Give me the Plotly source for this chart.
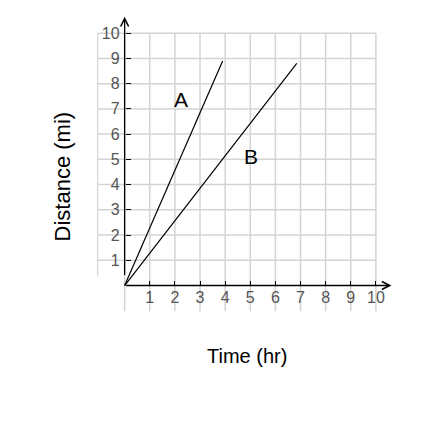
import plotly.graph_objects as go

# data
line_a_x = [0, 3.9]
line_a_y = [0, 8.9]
line_b_x = [0, 6.85]
line_b_y = [0, 8.8]
tick_vals = [1, 2, 3, 4, 5, 6, 7, 8, 9, 10]
tick_text = [str(v) for v in tick_vals]
labels = ["A", "B"]
label_x = [2.26, 5.04]
label_y = [7.39, 5.12]

XMIN, XMAX = -1.1, 10.8
YMIN, YMAX = -1.05, 10.8
GX0, GY0 = -1.08, -1.02

fig = go.Figure()
fig.add_trace(go.Scatter(x=line_a_x, y=line_a_y, mode="lines",
                         line=dict(color="black", width=1.2), showlegend=False, hoverinfo="skip"))
fig.add_trace(go.Scatter(x=line_b_x, y=line_b_y, mode="lines",
                         line=dict(color="black", width=1.2), showlegend=False, hoverinfo="skip"))

shapes = []
gridc = "#d4d4d4"
for v in [GX0] + [0] + tick_vals:
    y0 = 0.36 if v == GX0 else GY0
    shapes.append(dict(type="line", xref="x", yref="y", x0=v, x1=v, y0=y0, y1=10,
                       line=dict(color=gridc, width=1.5), layer="below"))
for v in tick_vals:
    shapes.append(dict(type="line", xref="x", yref="y", x0=GX0, x1=10, y0=v, y1=v,
                       line=dict(color=gridc, width=1.5), layer="below"))

annotations = []
annotations.append(dict(x=0, y=10.65, ax=0, ay=0.36, xref="x", yref="y", axref="x", ayref="y",
                        showarrow=True, arrowhead=5, arrowwidth=1.3, arrowsize=1.2,
                        arrowcolor="black", text=""))
annotations.append(dict(x=10.62, y=0, ax=0, ay=0, xref="x", yref="y", axref="x", ayref="y",
                        showarrow=True, arrowhead=5, arrowwidth=1.3, arrowsize=1.2,
                        arrowcolor="black", text=""))
for t, lx, ly in zip(labels, label_x, label_y):
    annotations.append(dict(x=lx, y=ly, xref="x", yref="y", text=t, showarrow=False,
                            xanchor="center", yanchor="middle",
                            font=dict(family="Liberation Sans, Arial", size=21, color="black")))
annotations.append(dict(x=0.503, y=-0.1457, xref="paper", yref="paper", text="Time (hr)",
                        xanchor="center", yanchor="middle",
                        showarrow=False, font=dict(family="Liberation Sans, Arial", size=20, color="black")))
annotations.append(dict(x=-0.115, y=0.452, xref="paper", yref="paper", text="Distance (mi)",
                        xanchor="center", yanchor="middle",
                        textangle=-90, showarrow=False,
                        font=dict(family="Liberation Sans, Arial", size=22, color="black")))

tickfont = dict(family="Liberation Sans, Arial", size=16, color="#555555")
fig.update_layout(
    width=446, height=427,
    margin=dict(l=89, r=58, t=5, b=123),
    paper_bgcolor="white", plot_bgcolor="white",
    shapes=shapes, annotations=annotations,
    xaxis=dict(range=[XMIN, XMAX], tickvals=tick_vals, ticktext=tick_text,
               showgrid=False, zeroline=False, showline=False,
               ticks="inside", ticklen=5, tickwidth=1, tickcolor="black",
               anchor="free", position=(0 - YMIN) / (YMAX - YMIN), tickfont=tickfont),
    yaxis=dict(range=[YMIN, YMAX], tickvals=tick_vals, ticktext=tick_text,
               showgrid=False, zeroline=False, showline=False,
               ticks="inside", ticklen=5, tickwidth=1, tickcolor="black",
               ticklabelstandoff=5,
               anchor="free", position=(0 - XMIN) / (XMAX - XMIN), tickfont=tickfont),
)
fig.write_html("out.html")
